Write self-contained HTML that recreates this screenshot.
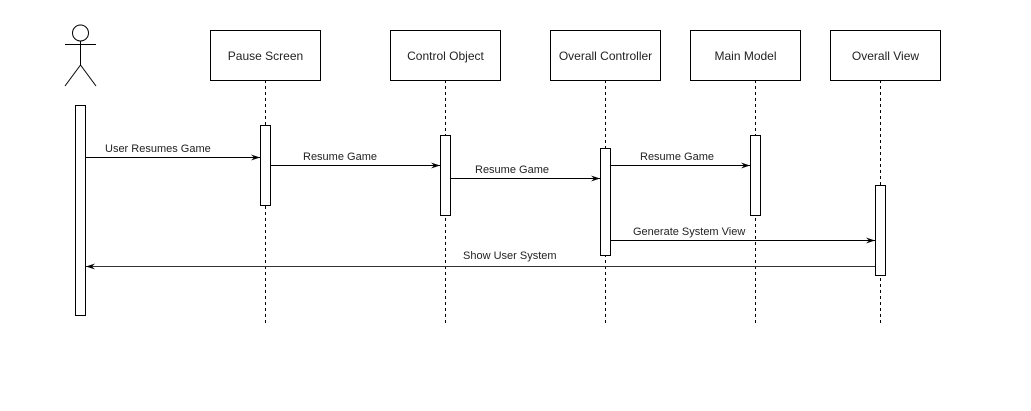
<!DOCTYPE html>
<html><head><meta charset="utf-8"><style>
html,body{margin:0;padding:0;background:#fff;}
svg{display:block;}
text{font-family:"Liberation Sans",Arial,sans-serif;font-size:11px;fill:#222;}
.bt{font-size:12px;}
</style></head><body>
<svg width="1031" height="411" viewBox="0 0 1031 411" xmlns="http://www.w3.org/2000/svg">
<defs>
<marker id="a" markerWidth="10" markerHeight="8" refX="9" refY="4" orient="auto" markerUnits="userSpaceOnUse">
<path d="M0,1 L9,4 L0,7 L3,4 Z" fill="#000"/>
</marker>
</defs>
<g stroke="#000" stroke-width="1" fill="none">
<circle cx="80.5" cy="33" r="8" fill="#fff"/>
<line x1="65" y1="44.5" x2="96" y2="44.5"/>
<line x1="80.5" y1="41" x2="80.5" y2="65"/>
<line x1="80.5" y1="65" x2="65" y2="86"/>
<line x1="80.5" y1="65" x2="96" y2="86"/>
<g stroke-dasharray="3,3">
<line x1="265.5" y1="80" x2="265.5" y2="324"/>
<line x1="445.5" y1="80" x2="445.5" y2="324"/>
<line x1="605.5" y1="80" x2="605.5" y2="324"/>
<line x1="755.5" y1="80" x2="755.5" y2="324"/>
<line x1="880.5" y1="80" x2="880.5" y2="324"/>
</g>
<g fill="#fff">
<rect x="210.5" y="30.5" width="110" height="50"/>
<rect x="390.5" y="30.5" width="110" height="50"/>
<rect x="550.5" y="30.5" width="110" height="50"/>
<rect x="690.5" y="30.5" width="110" height="50"/>
<rect x="830.5" y="30.5" width="110" height="50"/>
<rect x="75.5" y="105.5" width="10" height="210"/>
<rect x="260.5" y="125.5" width="10" height="80"/>
<rect x="440.5" y="135.5" width="10" height="80"/>
<rect x="600.5" y="148.5" width="10" height="107"/>
<rect x="750.5" y="135.5" width="10" height="80"/>
<rect x="875.5" y="185.5" width="10" height="90"/>
</g>
<line x1="85" y1="157.5" x2="260" y2="157.5" marker-end="url(#a)"/>
<line x1="271" y1="165.5" x2="440" y2="165.5" marker-end="url(#a)"/>
<line x1="451" y1="178.5" x2="600" y2="178.5" marker-end="url(#a)"/>
<line x1="611" y1="165.5" x2="750" y2="165.5" marker-end="url(#a)"/>
<line x1="611" y1="240.5" x2="875" y2="240.5" marker-end="url(#a)"/>
<line x1="875" y1="266.5" x2="86" y2="266.5" stroke="#333" marker-end="url(#a)"/>
</g>
<text class="bt" x="265.5" y="60" text-anchor="middle">Pause Screen</text>
<text class="bt" x="445.5" y="60" text-anchor="middle">Control Object</text>
<text class="bt" x="605.5" y="60" text-anchor="middle">Overall Controller</text>
<text class="bt" x="745.5" y="60" text-anchor="middle">Main Model</text>
<text class="bt" x="885.5" y="60" text-anchor="middle">Overall View</text>
<text x="105" y="152">User Resumes Game</text>
<text x="303" y="160">Resume Game</text>
<text x="475" y="173">Resume Game</text>
<text x="640" y="160">Resume Game</text>
<text x="633" y="235">Generate System View</text>
<text x="463" y="259">Show User System</text>
</svg>
</body></html>
